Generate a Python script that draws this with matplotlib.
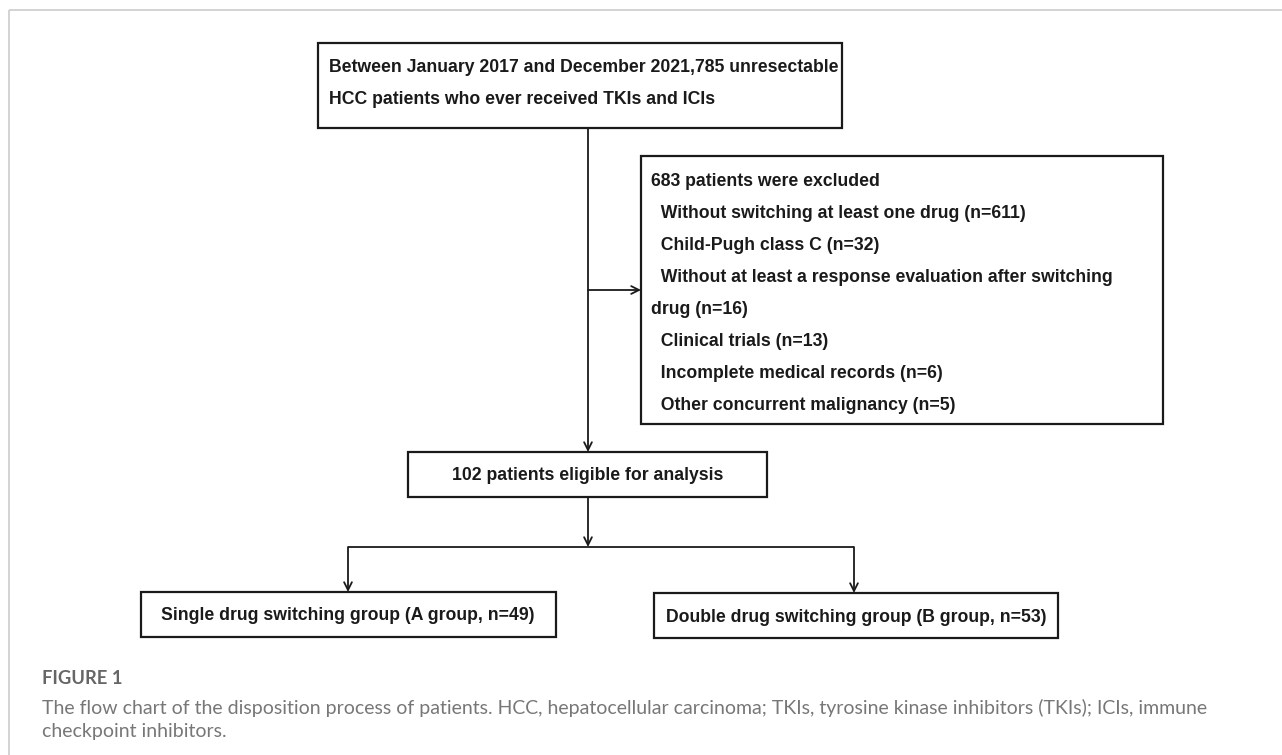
import matplotlib
matplotlib.use("Agg")
import matplotlib.pyplot as plt
from matplotlib.patches import Rectangle

# texts of the flow chart
top_lines = ["Between January 2017 and December 2021,785 unresectable",
             "HCC patients who ever received TKIs and ICIs"]
excl_lines = ["683 patients were excluded",
              "  Without switching at least one drug (n=611)",
              "  Child-Pugh class C (n=32)",
              "  Without at least a response evaluation after switching",
              "drug (n=16)",
              "  Clinical trials (n=13)",
              "  Incomplete medical records (n=6)",
              "  Other concurrent malignancy (n=5)"]
eligible = "102 patients eligible for analysis"
group_a = "Single drug switching group (A group, n=49)"
group_b = "Double drug switching group (B group, n=53)"
fig_label = "FIGURE 1"
caption = ["The flow chart of the disposition process of patients. HCC, hepatocellular carcinoma; TKIs, tyrosine kinase inhibitors (TKIs); ICIs, immune",
           "checkpoint inhibitors."]

W, H = 1282, 755
fig = plt.figure(figsize=(W / 100, H / 100), dpi=100)
ax = fig.add_axes([0, 0, 1, 1])
ax.set_xlim(0, W)
ax.set_ylim(H, 0)
ax.axis("off")

ink = "#1a1a1a"
box_lw = 1.6
fs = 12.7
font = "Liberation Sans"


def box(x0, y0, x1, y1):
    ax.add_patch(Rectangle((x0, y0), x1 - x0, y1 - y0, fill=False,
                           ec=ink, lw=box_lw))


def line(xs, ys, color=ink, lw=1.3):
    ax.plot(xs, ys, color=color, lw=lw, solid_capstyle="butt")


def arrow(x0, y0, x1, y1):
    ax.annotate("", xy=(x1, y1), xytext=(x0, y0),
                arrowprops=dict(arrowstyle="->", color=ink, lw=1.3,
                                mutation_scale=14, shrinkA=0, shrinkB=0))


def label(x, y, s, ha="left"):
    ax.text(x, y, s, ha=ha, va="center", fontsize=fs, fontweight="bold",
            family=font, color=ink)


# outer frame (top and left only)
line([9, W], [10, 10], color="#cccccc", lw=1.2)
line([9, 9], [10, H], color="#cccccc", lw=1.2)

# top box
box(318, 43, 842, 128)
label(329, 68, top_lines[0])
label(329, 100, top_lines[1])

# main vertical flow and exclusion branch
arrow(588, 128, 588, 452)
arrow(588, 290, 641, 290)

# exclusion box
box(641, 156, 1163, 424)
for i, s in enumerate(excl_lines):
    label(651, 181 + i * 32, s)

# eligible box
box(408, 452, 767, 497)
label(588, 476, eligible, ha="center")

# split to groups
arrow(588, 497, 588, 547)
line([348, 854], [547, 547])
arrow(348, 547, 348, 592)
arrow(854, 547, 854, 593)

box(141, 592, 556, 637)
label(348, 616, group_a, ha="center")
box(654, 593, 1058, 638)
label(856, 617, group_b, ha="center")

# caption
ax.text(42, 678, fig_label, ha="left", va="center", fontsize=13.2,
        fontweight="bold", family="Lato", color="#666666")
for i, s in enumerate(caption):
    ax.text(42, 708 + i * 24, s, ha="left", va="center", fontsize=14,
            family="Lato", color="#777777")

fig.savefig("out.png", dpi=100)
